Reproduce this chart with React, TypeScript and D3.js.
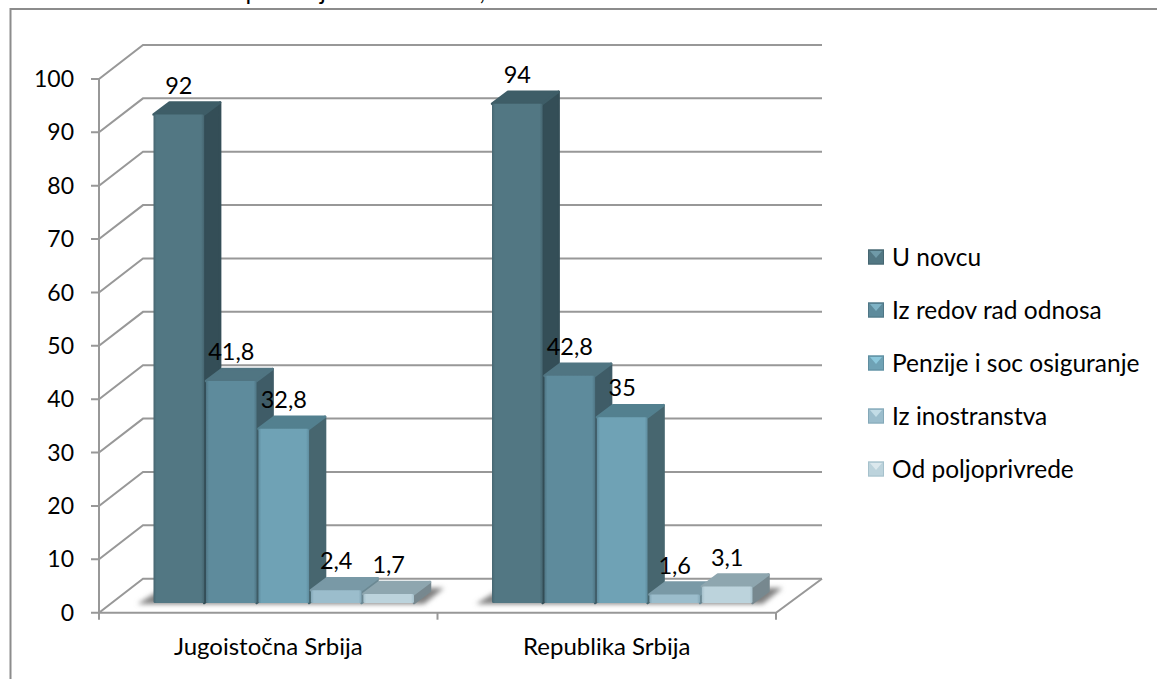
import React from "react";
import * as d3 from "d3";

const categories = ["Jugoistočna Srbija", "Republika Srbija"];
const seriesNames = ["U novcu", "Iz redov rad odnosa", "Penzije i soc osiguranje", "Iz inostranstva", "Od poljoprivrede"];
const jugoistocna = [92, 41.8, 32.8, 2.4, 1.7];
const republika = [94, 42.8, 35, 1.6, 3.1];
const valueLabelsA = ["92", "41,8", "32,8", "2,4", "1,7"];
const valueLabelsB = ["94", "42,8", "35", "1,6", "3,1"];
const yTicks = [0, 10, 20, 30, 40, 50, 60, 70, 80, 90, 100];
const fronts = ["#527783", "#5e8b9c", "#6fa2b5", "#9bbdcc", "#bcd3dc"];
const edges = ["#466671", "#4f7685", "#5f8d9f", "#84a8b8", "#a6c1cc"];
const tops = ["#3e5d67", "#507582", "#53808f", "#7999a6", "#8ea6af"];
const sides = ["#344e57", "#3f5c67", "#47666f", "#6b8893", "#77888f"];
const legendLights = ["#6f9aa8", "#7fb3c6", "#8cc8dc", "#c2dce6", "#dbe8ed"];
const titleText = "Grafikon 1. Struktura primanja domaćinstva, 2010";

const FONT = "Lato, 'Open Sans', sans-serif";
const GRID = "#989898";
const dx = 44, dy = 34;
const bx = 16, by = 12;

export default function App() {
  const yAxis = d3.scaleLinear().domain([0, 100]).range([612.7, 79]);
  const yBar = d3.scaleLinear().domain([0, 100]).range([603, 72]);
  const x0 = d3.scaleBand<string>().domain(categories).range([99, 776]);
  const x1 = d3.scaleBand<string>().domain(seriesNames).range([54.5, 315]).paddingInner(0.035).paddingOuter(0);
  const groups = [jugoistocna, republika];
  const labels = [valueLabelsA, valueLabelsB];
  const line = d3.line();
  const poly = (pts: [number, number][]) => line(pts) + "Z";
  const w = x1.bandwidth();

  return (
    <svg width={1157} height={679} style={{ position: "absolute", left: 0, top: 0, display: "block", background: "#fff" }} fontFamily={FONT}>
      <defs>
        {fronts.map((c, i) => (
          <linearGradient key={i} id={`f${i}`} x1="0" x2="1" y1="0" y2="0">
            <stop offset="0" stopColor={edges[i]} />
            <stop offset="0.06" stopColor={c} />
            <stop offset="0.94" stopColor={c} />
            <stop offset="1" stopColor={edges[i]} />
          </linearGradient>
        ))}
        <filter id="blur" x="-10%" y="-60%" width="120%" height="220%">
          <feGaussianBlur stdDeviation="2.5" />
        </filter>
      </defs>

      <text x={15} y={-0.5} fontSize={24.5} fill="#000">{titleText}</text>
      <path d="M10.5,679V9H1157" fill="none" stroke="#8c8c8c" strokeWidth={2} />

      <g stroke={GRID} strokeWidth={2} fill="none">
        {yTicks.map((t) => (
          <path key={t} d={line([[91, yAxis(t)], [99, yAxis(t)], [99 + dx, yAxis(t) - dy], [99 + dx + 679, yAxis(t) - dy]]) as string} />
        ))}
        <path d={line([[99, yAxis(100)], [99, yAxis(0)], [776, yAxis(0)], [822, yAxis(0) - dy]]) as string} />
        {[99, x0(categories[1]) as number, 776].map((x) => (
          <path key={x} d={`M${x},${yAxis(0)}V${yAxis(0) + 7}`} />
        ))}
      </g>
      {yTicks.map((t) => (
        <text key={t} x={74} y={yAxis(t)} dy="0.35em" textAnchor="end" fontSize={23} fill="#000">{t}</text>
      ))}
      {categories.map((c) => (
        <text key={c} x={(x0(c) as number) + x0.bandwidth() / 2} y={647} dy="0.35em" textAnchor="middle" fontSize={24} fill="#000">{c}</text>
      ))}

      {categories.map((c) => {
        const left = (x0(c) as number) + (x1(seriesNames[0]) as number);
        const right = (x0(c) as number) + (x1(seriesNames[4]) as number) + w;
        return (
          <path key={c} d={poly([[left - 16, 604], [right + 10, 604], [right + 30, 588], [left + 10, 588]])} fill="#808080" filter="url(#blur)" />
        );
      })}
      {categories.map((c, g) =>
        seriesNames.map((s, i) => {
          const x = (x0(c) as number) + (x1(s) as number);
          const top = yBar(groups[g][i]);
          const base = yBar(0);
          return (
            <g key={c + s} strokeLinejoin="round">
              <path d={poly([[x + w, top], [x + w + bx, top - by], [x + w + bx, base - by], [x + w, base]])} fill={sides[i]} stroke={sides[i]} strokeWidth={2.5} />
              <path d={poly([[x, top], [x + bx, top - by], [x + w + bx, top - by], [x + w, top]])} fill={tops[i]} stroke={tops[i]} strokeWidth={2.5} />
              <rect x={x} y={top} width={w} height={base - top} rx={1.5} fill={`url(#f${i})`} />
            </g>
          );
        })
      )}
      {categories.map((c, g) =>
        seriesNames.map((s, i) => (
          <text key={c + s} x={(x0(c) as number) + (x1(s) as number) + w / 2} y={yBar(groups[g][i]) - 29} dy="0.35em" textAnchor="middle" fontSize={23.5} fill="#000">
            {labels[g][i]}
          </text>
        ))
      )}

      {seriesNames.map((s, i) => {
        const yL = d3.scalePoint<string>().domain(seriesNames).range([257, 469]);
        const y = yL(s) as number;
        return (
          <g key={s}>
            <rect x={868} y={y - 7.5} width={16} height={15} fill={fronts[i]} />
            <path d={poly([[870, y - 6], [882, y - 6], [876, y + 1]])} fill={legendLights[i]} />
            <rect x={868.5} y={y - 7} width={15} height={14} fill="none" stroke={edges[i]} strokeWidth={1} />
            <text x={892} y={y} dy="0.35em" fontSize={24.5} fill="#000">{s}</text>
          </g>
        );
      })}
    </svg>
  );
}
